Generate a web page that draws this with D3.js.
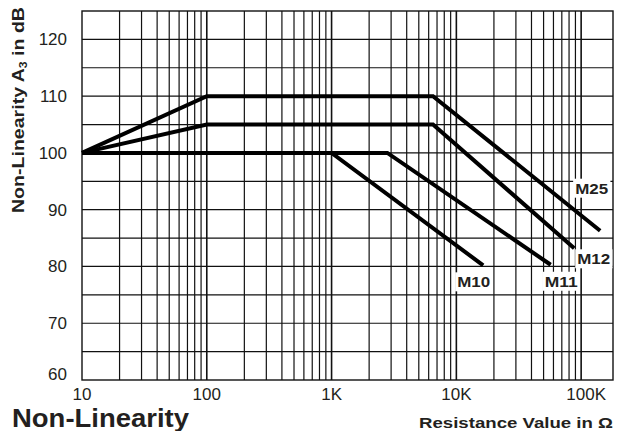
<!DOCTYPE html>
<html>
<head>
<meta charset="utf-8">
<script src="https://cdn.jsdelivr.net/npm/d3@7"></script>
<style>
  body { margin: 0; background: #fff; }
  text { font-family: Arial, "Liberation Sans", Helvetica, sans-serif; fill: #231f20; }
</style>
</head>
<body>
<div id="chart"></div>
<script>
// tick values / labels
var xTicks = [10, 100, 1000, 10000, 100000];
var xTickLabels = ["10", "100", "1K", "10K", "100K"];
var yTicks = [60, 70, 80, 90, 100, 110, 120];

// series: resistance (ohm) and non-linearity (dB)
var seriesNames = ["M25", "M12", "M11", "M10"];
var m25Ohm = [10, 100, 6500, 142000];
var m25Db = [100, 110, 110, 86.3];
var m12Ohm = [10, 100, 6500, 88000];
var m12Db = [100, 105, 105, 83.2];
var m11Ohm = [10, 2800, 57000];
var m11Db = [100, 100, 80.3];
var m10Ohm = [10, 1000, 16400];
var m10Db = [100, 100, 80.2];

document.addEventListener('DOMContentLoaded', function () {
  var width = 619;
  var height = 431;
  var left = 82, right = 613, top = 11, bottom = 380;

  var svg = d3.select('#chart')
    .append('svg')
    .attr('width', width)
    .attr('height', height);

  var x = d3.scaleLog().domain([10, 180000]).range([left, right]);
  var y = d3.scaleLinear().domain([60, 125]).range([bottom, top]);

  // vertical grid: 1..9 in every decade
  var vGrid = [];
  for (var k = 1; k <= 5; k++) {
    for (var d = 1; d <= 9; d++) {
      var v = d * Math.pow(10, k);
      if (v > 10 && v < 180000) vGrid.push(v);
    }
  }
  var hGrid = d3.range(65, 125, 5);

  var grid = svg.append('g')
    .attr('stroke', '#111')
    .attr('stroke-width', 1.2);

  grid.selectAll('line.v')
    .data(vGrid)
    .enter()
    .append('line')
    .attr('class', 'v')
    .attr('x1', function (d) { return x(d); })
    .attr('x2', function (d) { return x(d); })
    .attr('y1', top)
    .attr('y2', bottom)
    .attr('stroke-width', function (d) { return xTicks.indexOf(d) >= 0 ? 1.6 : 1.2; });

  grid.selectAll('line.h')
    .data(hGrid)
    .enter()
    .append('line')
    .attr('class', 'h')
    .attr('x1', left)
    .attr('x2', right)
    .attr('y1', function (d) { return y(d); })
    .attr('y2', function (d) { return y(d); });

  svg.append('rect')
    .attr('x', left)
    .attr('y', top)
    .attr('width', right - left)
    .attr('height', bottom - top)
    .attr('fill', 'none')
    .attr('stroke', '#111')
    .attr('stroke-width', 1.4);

  // tick labels
  svg.selectAll('text.yt')
    .data(yTicks)
    .enter()
    .append('text')
    .attr('class', 'yt')
    .attr('x', left - 15)
    .attr('y', function (d) { return y(d) + 6 - (d === 60 ? 6 : 0); })
    .attr('text-anchor', 'end')
    .style('font-size', '17px')
    .text(function (d) { return d; });

  svg.selectAll('text.xt')
    .data(xTicks)
    .enter()
    .append('text')
    .attr('class', 'xt')
    .attr('x', function (d, i) { return x(d) + (i === xTicks.length - 1 ? 5 : 0); })
    .attr('y', bottom + 20)
    .attr('text-anchor', 'middle')
    .style('font-size', '17px')
    .text(function (d, i) { return xTickLabels[i]; });

  // axis titles
  var yTitle = svg.append('text')
    .attr('transform', 'translate(24,213) rotate(-90)')
    .attr('text-anchor', 'start')
    .attr('textLength', 206)
    .attr('lengthAdjust', 'spacingAndGlyphs')
    .style('font-size', '16px')
    .style('font-weight', 'bold');
  yTitle.append('tspan').text('Non-Linearity A');
  yTitle.append('tspan').attr('dy', 3).style('font-size', '10px').text('3');
  yTitle.append('tspan').attr('dy', -3).text(' in dB');

  svg.append('text')
    .attr('x', 613)
    .attr('y', 428)
    .attr('text-anchor', 'end')
    .attr('textLength', 194)
    .attr('lengthAdjust', 'spacingAndGlyphs')
    .style('font-size', '15px')
    .style('font-weight', 'bold')
    .text('Resistance Value in \u03a9');

  svg.append('text')
    .attr('x', 12)
    .attr('y', 427)
    .attr('textLength', 177)
    .attr('lengthAdjust', 'spacingAndGlyphs')
    .style('font-size', '25px')
    .style('font-weight', 'bold')
    .text('Non-Linearity');

  // series
  var series = [
    { name: seriesNames[0], ohm: m25Ohm, db: m25Db },
    { name: seriesNames[1], ohm: m12Ohm, db: m12Db },
    { name: seriesNames[2], ohm: m11Ohm, db: m11Db },
    { name: seriesNames[3], ohm: m10Ohm, db: m10Db }
  ];
  // label offsets from each curve's end point
  var labelOffset = [[-25, -37], [3, 16], [-6, 22], [-26, 22]];

  var labels = svg.append('g');
  series.forEach(function (s, i) {
    var n = s.ohm.length - 1;
    var ex = x(s.ohm[n]), ey = y(s.db[n]);
    var g = labels.append('g');
    var t = g.append('text')
      .attr('x', ex + labelOffset[i][0])
      .attr('y', ey + labelOffset[i][1])
      .attr('textLength', 33)
      .attr('lengthAdjust', 'spacingAndGlyphs')
      .style('font-size', '14px')
      .style('font-weight', 'bold')
      .text(s.name);
    var bb = t.node().getBBox();
    g.insert('rect', 'text')
      .attr('x', bb.x - 2)
      .attr('y', bb.y - 2)
      .attr('width', bb.width + 4)
      .attr('height', bb.height + 3)
      .attr('fill', '#fff');
  });

  var line = d3.line()
    .x(function (d) { return x(d[0]); })
    .y(function (d) { return y(d[1]); });

  svg.selectAll('path.series')
    .data(series)
    .enter()
    .append('path')
    .attr('class', 'series')
    .attr('d', function (s) { return line(d3.zip(s.ohm, s.db)); })
    .attr('fill', 'none')
    .attr('stroke', '#000')
    .attr('stroke-width', 4)
    .attr('stroke-linejoin', 'miter');
});
</script>
</body>
</html>
